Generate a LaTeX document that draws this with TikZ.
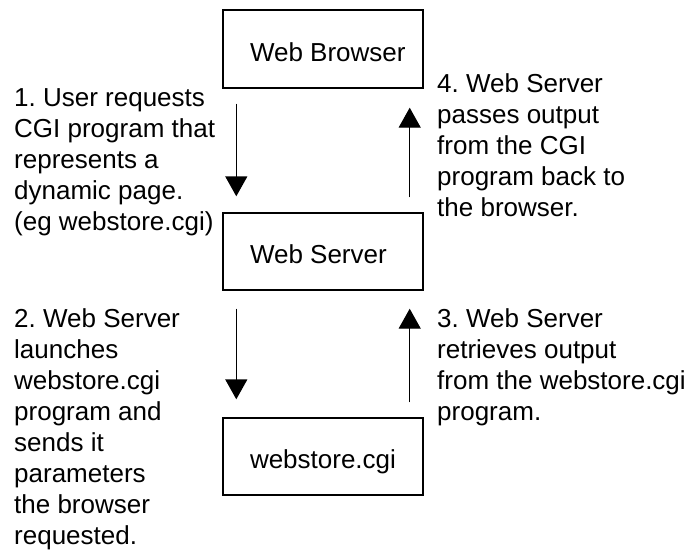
\documentclass[tikz,border=0pt]{standalone}
\usepackage{fontspec}
\setmainfont{Liberation Sans}
\usetikzlibrary{arrows.meta}
\frenchspacing
% box caption: left-aligned, baseline 12pt below the box centre
\newcommand\boxcaption[1]{\makebox[200pt][l]{\hspace{27pt}\raisebox{-12pt}[0pt][0pt]{#1}}}
\begin{document}
\begin{tikzpicture}[x=1pt,y=-1pt,
  every node/.style={font=\fontsize{26}{31}\selectfont, inner sep=0pt},
  stage/.style={draw, line width=1.4pt, minimum width=200pt},
  note/.style={anchor=north west, align=left},
  flow/.style={line width=1.4pt, -{Triangle[width=22pt,length=20pt]}}]
  \fill[white] (0,0) rectangle (690,550);
  \useasboundingbox (0,0) rectangle (690,550);

  % the three stages
  \node[stage, minimum height=78pt] (browser) at (323,49)    {\boxcaption{Web Browser}};
  \node[stage, minimum height=77pt] (server)  at (323,251.5) {\boxcaption{Web Server}};
  \node[stage, minimum height=77pt] (cgi)     at (323,456.5) {\boxcaption{webstore.cgi}};

  % requests going down, output coming back up
  \draw[flow] ([xshift=14pt,yshift=-15pt]browser.south west) -- ([xshift=14pt,yshift=16pt]server.north west);
  \draw[flow] ([xshift=-14pt,yshift=15pt]server.north east) -- ([xshift=-14pt,yshift=-19pt]browser.south east);
  \draw[flow] ([xshift=14pt,yshift=-18pt]server.south west) -- ([xshift=14pt,yshift=18pt]cgi.north west);
  \draw[flow] ([xshift=-14pt,yshift=15pt]cgi.north east) -- ([xshift=-14pt,yshift=-18pt]server.south east);

  % step descriptions
  \node[note] (step1) at (14,88.4) {1. User requests\\CGI program that\\represents a\\dynamic page.\\(eg webstore.cgi)};
  \node[note] (step4) at (437,73.4) {4. Web Server\\passes output\\from the CGI\\program back to\\the browser.};
  \node[note] (step2) at (14,308.4) {2. Web Server\\launches\\webstore.cgi\\program and\\sends it\\parameters\\the browser\\requested.};
  \node[note] (step3) at (437,308.4) {3. Web Server\\retrieves output\\from the webstore.cgi\\program.};
\end{tikzpicture}
\end{document}
